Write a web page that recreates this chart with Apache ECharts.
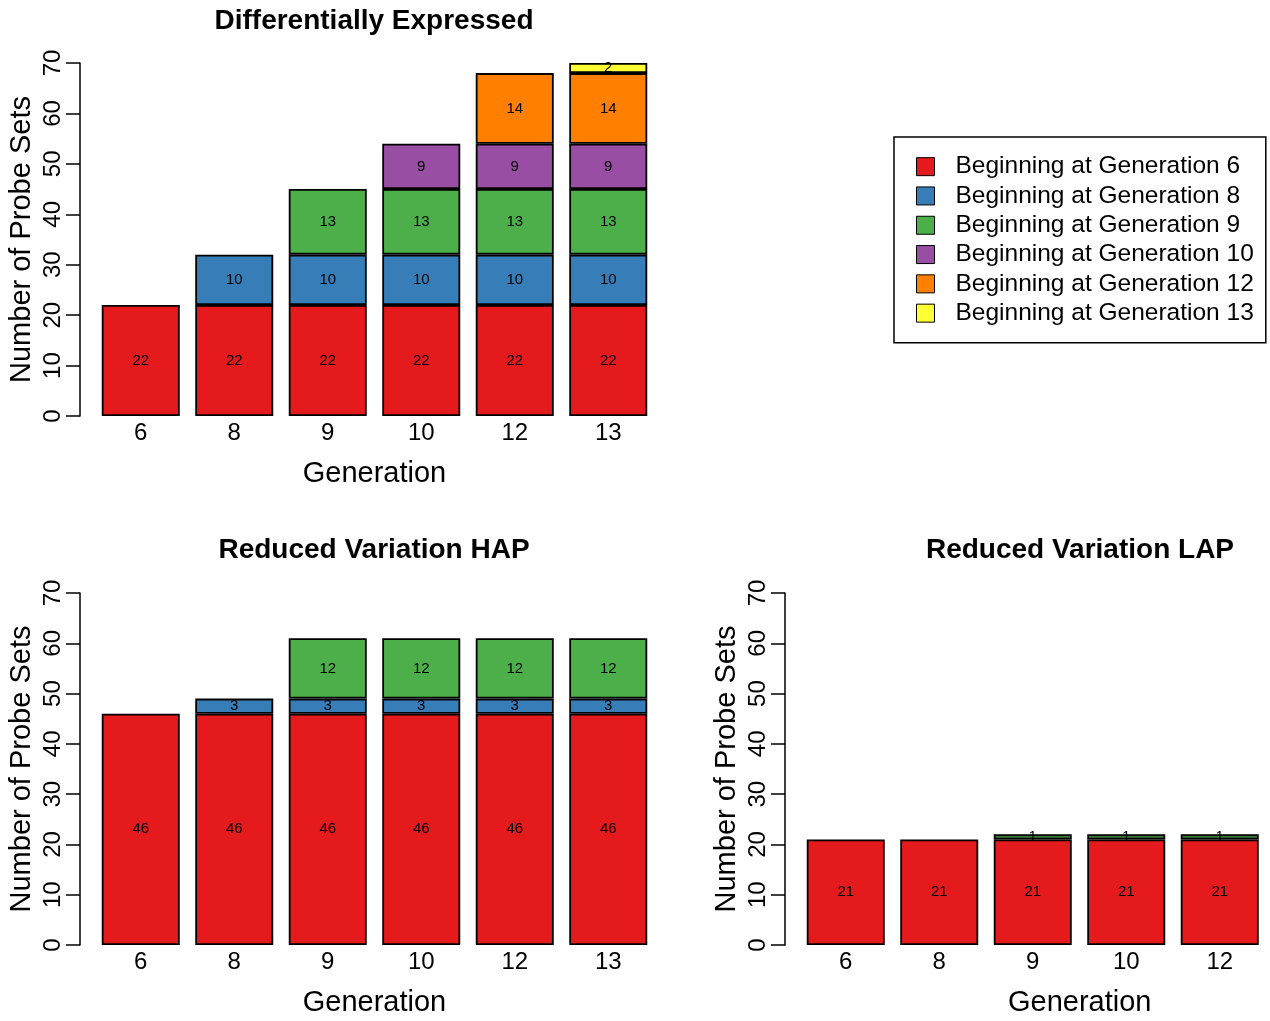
<!DOCTYPE html>
<html>
<head>
<meta charset="utf-8">
<script src="https://cdn.jsdelivr.net/npm/echarts@6/dist/echarts.min.js"></script>
<style>
  html, body { margin: 0; padding: 0; background: #fff; }
  #chart { width: 1270px; height: 1021px; }
</style>
</head>
<body>
<div id="chart"></div>
<script>
// categories
const gensDE = ["6", "8", "9", "10", "12", "13"]
const gensHAP = ["6", "8", "9", "10", "12", "13"]
const gensLAP = ["6", "8", "9", "10", "12"]

// series names and colours
const groupNames = [
  "Beginning at Generation 6",
  "Beginning at Generation 8",
  "Beginning at Generation 9",
  "Beginning at Generation 10",
  "Beginning at Generation 12",
  "Beginning at Generation 13"
]
const groupColors = ["#E41A1C", "#377EB8", "#4DAF4A", "#984EA3", "#FF7F00", "#FFFF33"]

// Differentially Expressed
const de6 = [22, 22, 22, 22, 22, 22]
const de8 = [null, 10, 10, 10, 10, 10]
const de9 = [null, null, 13, 13, 13, 13]
const de10 = [null, null, null, 9, 9, 9]
const de12 = [null, null, null, null, 14, 14]
const de13 = [null, null, null, null, null, 2]

// Reduced Variation HAP
const hap6 = [46, 46, 46, 46, 46, 46]
const hap8 = [null, 3, 3, 3, 3, 3]
const hap9 = [null, null, 12, 12, 12, 12]

// Reduced Variation LAP
const lap6 = [21, 21, 21, 21, 21]
const lap9 = [null, null, 1, 1, 1]

const yTicks = [0, 10, 20, 30, 40, 50, 60, 70]

const FONT = "Liberation Sans, Arial, Helvetica, sans-serif"

const chart = echarts.init(document.getElementById("chart"))

const grids = [
  { left: 94, top: 63, width: 561, height: 353 },
  { left: 94, top: 593, width: 561, height: 352 },
  { left: 799, top: 593, width: 467.5, height: 352 }
]

// the LAP x label sits centred on the full plot region, not on its five bars
const nameShift = [0, 0, 94]

const xAxes = [gensDE, gensHAP, gensLAP].map((cats, i) => ({
  type: "category",
  gridIndex: i,
  data: cats,
  axisLine: { show: false },
  axisTick: { show: false },
  axisLabel: { color: "#000", fontSize: 24, fontFamily: FONT, margin: 5 },
  name: "Generation",
  nameLocation: "middle",
  nameGap: 43,
  nameTextStyle: { color: "#000", fontSize: 29, fontFamily: FONT, padding: [0, 0, 0, nameShift[i]] }
}))

const yAxes = [0, 1, 2].map(i => ({
  type: "value",
  gridIndex: i,
  min: yTicks[0],
  max: yTicks[yTicks.length - 1],
  interval: 10,
  offset: 14,
  splitLine: { show: false },
  axisLine: { show: true, lineStyle: { color: "#000", width: 1.5 } },
  axisTick: { show: true, inside: false, length: 14, lineStyle: { color: "#000", width: 1.5 } },
  axisLabel: { color: "#000", fontSize: 24, fontFamily: FONT, rotate: 90, margin: 15 },
  name: "Number of Probe Sets",
  nameLocation: "middle",
  nameGap: 44,
  nameTextStyle: { color: "#000", fontSize: 29, fontFamily: FONT }
}))

function bar(name, data, colorIdx, gi, stack) {
  return {
    name: name,
    type: "bar",
    xAxisIndex: gi,
    yAxisIndex: gi,
    stack: stack,
    data: data,
    barWidth: 78,
    itemStyle: { color: groupColors[colorIdx], borderColor: "#000", borderWidth: 1.8 },
    label: { show: true, position: "inside", color: "#000", fontSize: 15, fontFamily: FONT },
    emphasis: { disabled: true }
  }
}

const series = [
  bar(groupNames[0], de6, 0, 0, "de"),
  bar(groupNames[1], de8, 1, 0, "de"),
  bar(groupNames[2], de9, 2, 0, "de"),
  bar(groupNames[3], de10, 3, 0, "de"),
  bar(groupNames[4], de12, 4, 0, "de"),
  bar(groupNames[5], de13, 5, 0, "de"),
  bar(groupNames[0], hap6, 0, 1, "hap"),
  bar(groupNames[1], hap8, 1, 1, "hap"),
  bar(groupNames[2], hap9, 2, 1, "hap"),
  bar(groupNames[0], lap6, 0, 2, "lap"),
  bar(groupNames[2], lap9, 2, 2, "lap")
]

const titleStyle = { color: "#000", fontSize: 28, fontWeight: "bold", fontFamily: FONT }

chart.setOption({
  animation: false,
  title: [
    { text: "Differentially Expressed", left: 369, top: 2, textAlign: "center", textStyle: titleStyle },
    { text: "Reduced Variation HAP", left: 369, top: 531, textAlign: "center", textStyle: titleStyle },
    { text: "Reduced Variation LAP", left: 1075, top: 531, textAlign: "center", textStyle: titleStyle }
  ],
  legend: {
    data: groupNames,
    orient: "vertical",
    left: 894,
    top: 137,
    padding: [15, 12, 15, 22],
    borderColor: "#000",
    borderWidth: 1.5,
    itemWidth: 18,
    itemHeight: 18,
    itemGap: 0,
    selectedMode: false,
    icon: "rect",
    itemStyle: { borderColor: "#000", borderWidth: 1 },
    textStyle: { color: "#000", fontSize: 24.5, fontFamily: FONT, lineHeight: 29.3, padding: [0, 0, 0, 16] }
  },
  grid: grids,
  xAxis: xAxes,
  yAxis: yAxes,
  series: series
})
</script>
</body>
</html>
